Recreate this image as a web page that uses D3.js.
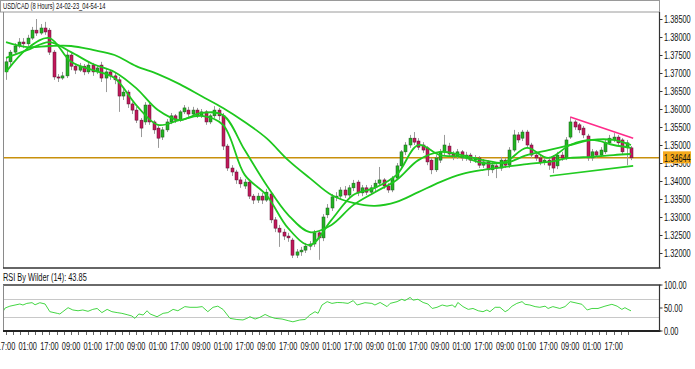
<!DOCTYPE html>
<html><head><meta charset="utf-8">
<script src="https://cdn.jsdelivr.net/npm/d3@7"></script>
<style>body{margin:0;background:#fff}svg{display:block}text{font-family:'Liberation Sans','Arial',sans-serif}</style>
</head><body><svg id="c" width="695" height="369"></svg>
<script>
const title = "USD/CAD (8 Hours) 24-02-23_04-54-14";
const rsiTitle = "RSI By Wilder (14): 43.85";

const open = [1.3703,1.3731,1.3758,1.3775,1.3786,1.3781,1.3797,1.3819,1.3811,1.3825,
1.3819,1.3758,1.3689,1.3686,1.3692,1.3750,1.3719,1.3708,1.3719,1.3703,
1.3722,1.3703,1.3722,1.3686,1.3703,1.3692,1.3681,1.3636,1.3647,1.3614,
1.3597,1.3569,1.3564,1.3611,1.3564,1.3547,1.3522,1.3542,1.3564,1.3581,
1.3569,1.3592,1.3597,1.3586,1.3597,1.3581,1.3592,1.3564,1.3581,1.3597,
1.3581,1.3497,1.3436,1.3425,1.3403,1.3386,1.3397,1.3358,1.3347,1.3358,
1.3347,1.3364,1.3292,1.3269,1.3258,1.3247,1.3236,1.3194,1.3203,1.3208,
1.3219,1.3225,1.3256,1.3242,1.3306,1.3325,1.3356,1.3358,1.3375,1.3361,
1.3381,1.3397,1.3367,1.3381,1.3369,1.3381,1.3394,1.3403,1.3386,1.3375,
1.3408,1.3442,1.3481,1.3500,1.3519,1.3511,1.3500,1.3492,1.3458,1.3431,
1.3458,1.3481,1.3497,1.3475,1.3469,1.3481,1.3464,1.3472,1.3458,1.3464,
1.3444,1.3453,1.3431,1.3442,1.3436,1.3458,1.3444,1.3486,1.3528,1.3519,
1.3536,1.3500,1.3472,1.3464,1.3453,1.3458,1.3467,1.3442,1.3472,1.3464,
1.3522,1.3564,1.3556,1.3547,1.3525,1.3464,1.3481,1.3472,1.3481,1.3506,
1.3514,1.3522,1.3514,1.3492,1.3492];
const high = [1.3742,1.3764,1.3783,1.3797,1.3797,1.3806,1.3828,1.3850,1.3836,1.3842,
1.3825,1.3764,1.3697,1.3703,1.3764,1.3758,1.3725,1.3728,1.3725,1.3731,
1.3728,1.3722,1.3731,1.3714,1.3708,1.3700,1.3689,1.3658,1.3653,1.3619,
1.3606,1.3575,1.3619,1.3617,1.3569,1.3553,1.3550,1.3572,1.3589,1.3586,
1.3597,1.3611,1.3606,1.3606,1.3603,1.3600,1.3597,1.3586,1.3608,1.3603,
1.3589,1.3503,1.3444,1.3431,1.3411,1.3406,1.3403,1.3364,1.3367,1.3367,
1.3378,1.3369,1.3300,1.3278,1.3267,1.3256,1.3242,1.3211,1.3217,1.3228,
1.3233,1.3264,1.3264,1.3308,1.3336,1.3364,1.3369,1.3383,1.3386,1.3389,
1.3403,1.3403,1.3389,1.3389,1.3389,1.3403,1.3439,1.3408,1.3394,1.3414,
1.3450,1.3486,1.3508,1.3528,1.3536,1.3519,1.3508,1.3497,1.3464,1.3472,
1.3489,1.3528,1.3506,1.3483,1.3489,1.3486,1.3481,1.3478,1.3472,1.3469,
1.3461,1.3458,1.3453,1.3450,1.3467,1.3464,1.3494,1.3542,1.3536,1.3542,
1.3542,1.3506,1.3481,1.3472,1.3467,1.3467,1.3472,1.3481,1.3481,1.3522,
1.3578,1.3569,1.3561,1.3553,1.3531,1.3489,1.3486,1.3494,1.3514,1.3528,
1.3533,1.3528,1.3519,1.3514,1.3497];
const low = [1.3681,1.3719,1.3750,1.3769,1.3769,1.3775,1.3792,1.3803,1.3806,1.3806,
1.3750,1.3681,1.3675,1.3681,1.3686,1.3708,1.3697,1.3703,1.3694,1.3697,
1.3692,1.3697,1.3675,1.3647,1.3681,1.3669,1.3592,1.3625,1.3603,1.3586,
1.3561,1.3522,1.3556,1.3556,1.3531,1.3492,1.3514,1.3536,1.3558,1.3561,
1.3564,1.3586,1.3578,1.3581,1.3575,1.3575,1.3556,1.3558,1.3575,1.3569,
1.3486,1.3428,1.3414,1.3392,1.3381,1.3378,1.3350,1.3336,1.3339,1.3336,
1.3342,1.3283,1.3258,1.3217,1.3236,1.3231,1.3186,1.3186,1.3192,1.3200,
1.3208,1.3217,1.3181,1.3233,1.3297,1.3317,1.3344,1.3350,1.3353,1.3353,
1.3372,1.3358,1.3358,1.3361,1.3361,1.3372,1.3386,1.3378,1.3367,1.3369,
1.3403,1.3436,1.3472,1.3492,1.3500,1.3486,1.3478,1.3444,1.3419,1.3425,
1.3450,1.3472,1.3467,1.3458,1.3461,1.3456,1.3456,1.3450,1.3450,1.3436,
1.3436,1.3414,1.3422,1.3408,1.3428,1.3436,1.3436,1.3481,1.3506,1.3511,
1.3492,1.3464,1.3456,1.3444,1.3444,1.3431,1.3422,1.3433,1.3456,1.3458,
1.3517,1.3542,1.3533,1.3519,1.3456,1.3456,1.3464,1.3467,1.3475,1.3500,
1.3508,1.3497,1.3472,1.3444,1.3458];
const close = [1.3731,1.3758,1.3775,1.3786,1.3781,1.3797,1.3819,1.3811,1.3825,1.3814,
1.3758,1.3689,1.3686,1.3692,1.3750,1.3719,1.3708,1.3719,1.3703,1.3722,
1.3703,1.3714,1.3686,1.3703,1.3692,1.3681,1.3636,1.3647,1.3614,1.3597,
1.3569,1.3547,1.3611,1.3564,1.3542,1.3519,1.3542,1.3564,1.3581,1.3569,
1.3592,1.3603,1.3586,1.3597,1.3581,1.3592,1.3564,1.3581,1.3597,1.3581,
1.3497,1.3436,1.3425,1.3403,1.3392,1.3397,1.3358,1.3347,1.3358,1.3347,
1.3369,1.3292,1.3269,1.3258,1.3247,1.3242,1.3194,1.3203,1.3208,1.3219,
1.3225,1.3256,1.3242,1.3300,1.3325,1.3356,1.3358,1.3375,1.3361,1.3381,
1.3394,1.3367,1.3381,1.3369,1.3381,1.3394,1.3403,1.3386,1.3375,1.3408,
1.3442,1.3481,1.3500,1.3519,1.3508,1.3494,1.3486,1.3453,1.3431,1.3464,
1.3481,1.3500,1.3475,1.3467,1.3481,1.3464,1.3472,1.3458,1.3464,1.3444,
1.3453,1.3431,1.3444,1.3436,1.3458,1.3444,1.3486,1.3528,1.3514,1.3536,
1.3500,1.3472,1.3464,1.3453,1.3458,1.3444,1.3436,1.3472,1.3464,1.3514,
1.3564,1.3550,1.3542,1.3528,1.3464,1.3481,1.3472,1.3486,1.3506,1.3519,
1.3522,1.3506,1.3481,1.3506,1.34644];

const xLabels = ["17:00","01:00","17:00","09:00","01:00","17:00","09:00","01:00","17:00","09:00",
"01:00","17:00","09:00","17:00","09:00","01:00","17:00","09:00","01:00","17:00",
"09:00","01:00","17:00","09:00","01:00","17:00","09:00","01:00","17:00"];
const xLabelStep = 5;
const priceTicks = [1.385,1.38,1.375,1.37,1.365,1.36,1.355,1.35,1.345,1.34,1.335,1.33,1.325,1.32];
const lastPrice = 1.34644;

const maBars = [0,5,10,15,20,25,30,35,40,45,50,55,60,65,70,75,80,85,90,95,100,105,110,115,120,125,130,135,140,144];
const maSlow = [1.3786,1.3772,1.3775,1.3775,1.3764,1.3750,1.3719,1.3697,1.3669,1.3636,1.3603,1.3564,1.3519,1.3458,1.3408,1.3361,1.3339,1.3331,1.3342,1.3369,1.3397,1.3419,1.3431,1.3439,1.3447,1.3453,1.3464,1.3467,1.3472,1.3475];
const maMid = [1.3742,1.3764,1.3786,1.3758,1.3725,1.3703,1.3658,1.3597,1.3569,1.3589,1.3583,1.3486,1.3389,1.3306,1.3258,1.3278,1.3333,1.3369,1.3403,1.3458,1.3481,1.3472,1.3458,1.3450,1.3472,1.3486,1.3500,1.3514,1.3514,1.3500];
const maFast = [1.3703,1.3769,1.3797,1.3731,1.3708,1.3686,1.3611,1.3556,1.3569,1.3581,1.3556,1.3417,1.3361,1.3269,1.3222,1.3292,1.3361,1.3381,1.3417,1.3500,1.3472,1.3467,1.3450,1.3453,1.3492,1.3464,1.3500,1.3514,1.3500,1.3492];

const rsiBars = [-0.7,-0.2,0.9,3.2,3.9,4.8,6.0,6.7,7.8,9.0,10.1,11.8,12.4,13.1,14.3,15.4,16.6,17.7,18.9,20.0,
21.0,22.1,23.3,24.4,25.6,26.7,27.9,29.0,29.7,30.6,31.6,32.5,33.2,34.8,36.2,37.3,38.5,39.6,41.2,42.4,
44.0,45.2,46.5,47.7,48.8,50.0,51.6,53.2,54.6,55.5,56.2,57.4,58.5,59.7,60.8,62.0,63.6,65.0,66.1,67.7,
68.9,70.0,71.2,71.9,72.8,74.0,75.1,76.3,77.6,78.8,80.0,80.9,82.7,84.3,85.0,86.2,87.8,88.5,90.1,91.2,
91.9,93.1,93.8,94.9,96.1,97.2,98.2,99.3,100.5,101.6,102.8,103.5,104.1,105.3,106.5,107.6,108.8,109.9,110.8,111.5,
112.7,113.8,115.0,115.7,116.6,117.7,118.9,119.6,120.7,121.9,123.0,124.2,124.9,126.0,127.6,128.8,130.0,131.1,132.7,133.9,
135.0,136.4,138.0,139.6,140.8,141.9,142.6,143.3,144.0];
const rsiValues = [42,50,54,58.7,56.5,60,61.6,57,61.5,58.7,42,38.4,37,42,50.7,45.7,44,45.7,42.8,47,
49,40,47,42,40,38.4,35.5,32.6,27.5,37,34.8,44,37,31,38.4,40,47,44,53,51.5,
51.5,53,42,51.5,54,47,27.5,25,24,27.5,31,26,29.7,36,31,27.5,26,22.5,20,24,
25,34.8,42,38.4,56.5,63.8,60,62,61.5,60,66,56.5,61.5,60,56.5,62,53,60,63.8,69,
66,73,67,69,62,58.7,49,51.5,56.5,54,56.5,51.5,62,53,47,49,44,42,45.7,42,
51.5,51.5,42,45.7,54,60,63.8,58,56.5,53,51.5,54,49,53,49,53,63.8,61.5,58,45.7,
49,49,54,58,54,47,50.7,47,43.85];
const rsiTicks = [100,50,0];
const rsiLevels = [70,30];

const resistanceLine = [[130,1.3578],[144.5,1.3519]];
const supportLine = [[125.3,1.3414],[144.5,1.3442]];

const svg = d3.select("#c");
const L = 3, R = 659.5, T = 12, B = 268;
const rT = 285, rB = 331;
const SX = 0.74;

function txt(g, tx, ty, s, opts = {}) {
  const size = opts.size || 10;
  const anchor = opts.anchor || "start";
  return g.append("text")
    .attr("transform", `translate(${tx},${ty}) scale(${opts.sx || SX},1)`)
    .attr("text-anchor", anchor).attr("font-size", size)
    .attr("fill", opts.fill || "#111").text(s);
}

const x = d3.scaleLinear().domain([0, 144]).range([6, 631]);
const y = d3.scaleLinear().domain([1.32, 1.385]).range([253, 19]);
const yr = d3.scaleLinear().domain([0, 100]).range([rB, rT]);

svg.append("rect").attr("width",695).attr("height",369).attr("fill","#fff");

// title box
svg.append("rect").attr("x",0.5).attr("y",0.5).attr("width",R-0.5).attr("height",T-0.5)
  .attr("fill","#fff").attr("stroke","#9a9a9a");
txt(svg, 3, 9.3, title, {size: 9, sx: 0.64});

const main = svg.append("g");
main.append("defs").append("clipPath").attr("id","clipM").append("rect")
  .attr("x",L).attr("y",T).attr("width",R-L).attr("height",B-T);

// last price line
main.append("line").attr("x1",L).attr("x2",R).attr("y1",y(lastPrice)).attr("y2",y(lastPrice))
  .attr("stroke","#c8900c").attr("stroke-width",1.6);

// candles
const idx = d3.range(open.length);
const cg = main.append("g").attr("clip-path","url(#clipM)");
cg.selectAll("line.w").data(idx).join("line").attr("class","w")
  .attr("x1",i=>Math.round(x(i))+0.5).attr("x2",i=>Math.round(x(i))+0.5)
  .attr("y1",i=>y(high[i])).attr("y2",i=>y(low[i]))
  .attr("stroke","#9a9a9a").attr("stroke-width",1);
cg.selectAll("rect.b").data(idx).join("rect").attr("class","b")
  .attr("x",i=>Math.round(x(i))-1)
  .attr("y",i=>y(Math.max(open[i],close[i])))
  .attr("width",3)
  .attr("height",i=>Math.max(1,Math.abs(y(open[i])-y(close[i]))))
  .attr("fill",i=>close[i]>=open[i]?"#22b422":"#c2185b")
  .attr("stroke",i=>close[i]>=open[i]?"#1e5a1e":"#5a1030").attr("stroke-width",0.5);

// moving averages
const maLine = d3.line().x(d=>x(d[0])).y(d=>y(d[1])).curve(d3.curveCatmullRom.alpha(0.5));
[maSlow, maMid, maFast].forEach(s=>{
  cg.append("path").datum(maBars.map((b,k)=>[b,s[k]])).attr("d",maLine)
    .attr("fill","none").attr("stroke","#1ec81e").attr("stroke-width",1.8);
});

// trend lines
const tl = d3.line().x(d=>x(d[0])).y(d=>y(d[1]));
cg.append("path").datum(resistanceLine).attr("d",tl).attr("stroke","#ff2a8a").attr("stroke-width",1.6).attr("fill","none");
cg.append("path").datum(supportLine).attr("d",tl).attr("stroke","#22cc22").attr("stroke-width",1.6).attr("fill","none");

// main frame
main.append("line").attr("x1",L+0.5).attr("x2",L+0.5).attr("y1",T).attr("y2",B).attr("stroke","#8a8a8a");
main.append("line").attr("x1",L).attr("x2",R+1).attr("y1",B).attr("y2",B).attr("stroke","#333").attr("stroke-width",1.5);
main.append("line").attr("x1",R).attr("x2",R).attr("y1",T).attr("y2",B).attr("stroke","#333").attr("stroke-width",1.2);

// price axis
const pa = svg.append("g");
priceTicks.forEach(p=>{
  pa.append("line").attr("x1",R).attr("x2",R+3).attr("y1",Math.round(y(p))+0.5).attr("y2",Math.round(y(p))+0.5).attr("stroke","#333");
  txt(pa, 664, y(p)+3.5, p.toFixed(5), {size: 10});
});
pa.append("rect").attr("x",663).attr("y",y(lastPrice)-6.5).attr("width",28).attr("height",12).attr("fill","#f5aa1c");
txt(pa, 664, y(lastPrice)+3.8, lastPrice.toFixed(5), {size: 10});

// RSI panel
const rg = svg.append("g");
txt(rg, 3, 281, rsiTitle, {size: 10});
rsiLevels.forEach(v=>{
  rg.append("line").attr("x1",L).attr("x2",R).attr("y1",Math.round(yr(v))+0.5).attr("y2",Math.round(yr(v))+0.5)
    .attr("stroke","#c8c8c8").attr("stroke-width",1);
});
rg.append("defs").append("clipPath").attr("id","clipR").append("rect")
  .attr("x",L).attr("y",rT).attr("width",R-L).attr("height",rB-rT);
rg.append("path").datum(rsiBars.map((b,k)=>[b,rsiValues[k]]))
  .attr("clip-path","url(#clipR)")
  .attr("d",d3.line().x(d=>x(d[0])).y(d=>yr(d[1])))
  .attr("fill","none").attr("stroke","#44d644").attr("stroke-width",1);
rg.append("line").attr("x1",L).attr("x2",R+1).attr("y1",rT).attr("y2",rT).attr("stroke","#6a6a6a").attr("stroke-width",2);
rg.append("line").attr("x1",L+0.5).attr("x2",L+0.5).attr("y1",rT).attr("y2",rB).attr("stroke","#8a8a8a");
rg.append("line").attr("x1",L).attr("x2",R+1).attr("y1",rB).attr("y2",rB).attr("stroke","#222").attr("stroke-width",2);
rg.append("line").attr("x1",R).attr("x2",R).attr("y1",rT).attr("y2",rB).attr("stroke","#333").attr("stroke-width",1.2);
rsiTicks.forEach(v=>{
  rg.append("line").attr("x1",R).attr("x2",R+3).attr("y1",yr(v)).attr("y2",yr(v)).attr("stroke","#333");
  txt(rg, 664, yr(v)+3.5, v.toFixed(2), {size: 10});
});

// x axis
const xa = svg.append("g");
d3.range(0, 144, xLabelStep/3).forEach(b=>{
  xa.append("line").attr("x1",Math.round(x(b))+0.5).attr("x2",Math.round(x(b))+0.5).attr("y1",rB+1).attr("y2",rB+4).attr("stroke","#666");
});
xLabels.forEach((t,k)=>{
  txt(xa, x(k*xLabelStep), 350, t, {size: 10, anchor: "middle"});
});
</script></body></html>
